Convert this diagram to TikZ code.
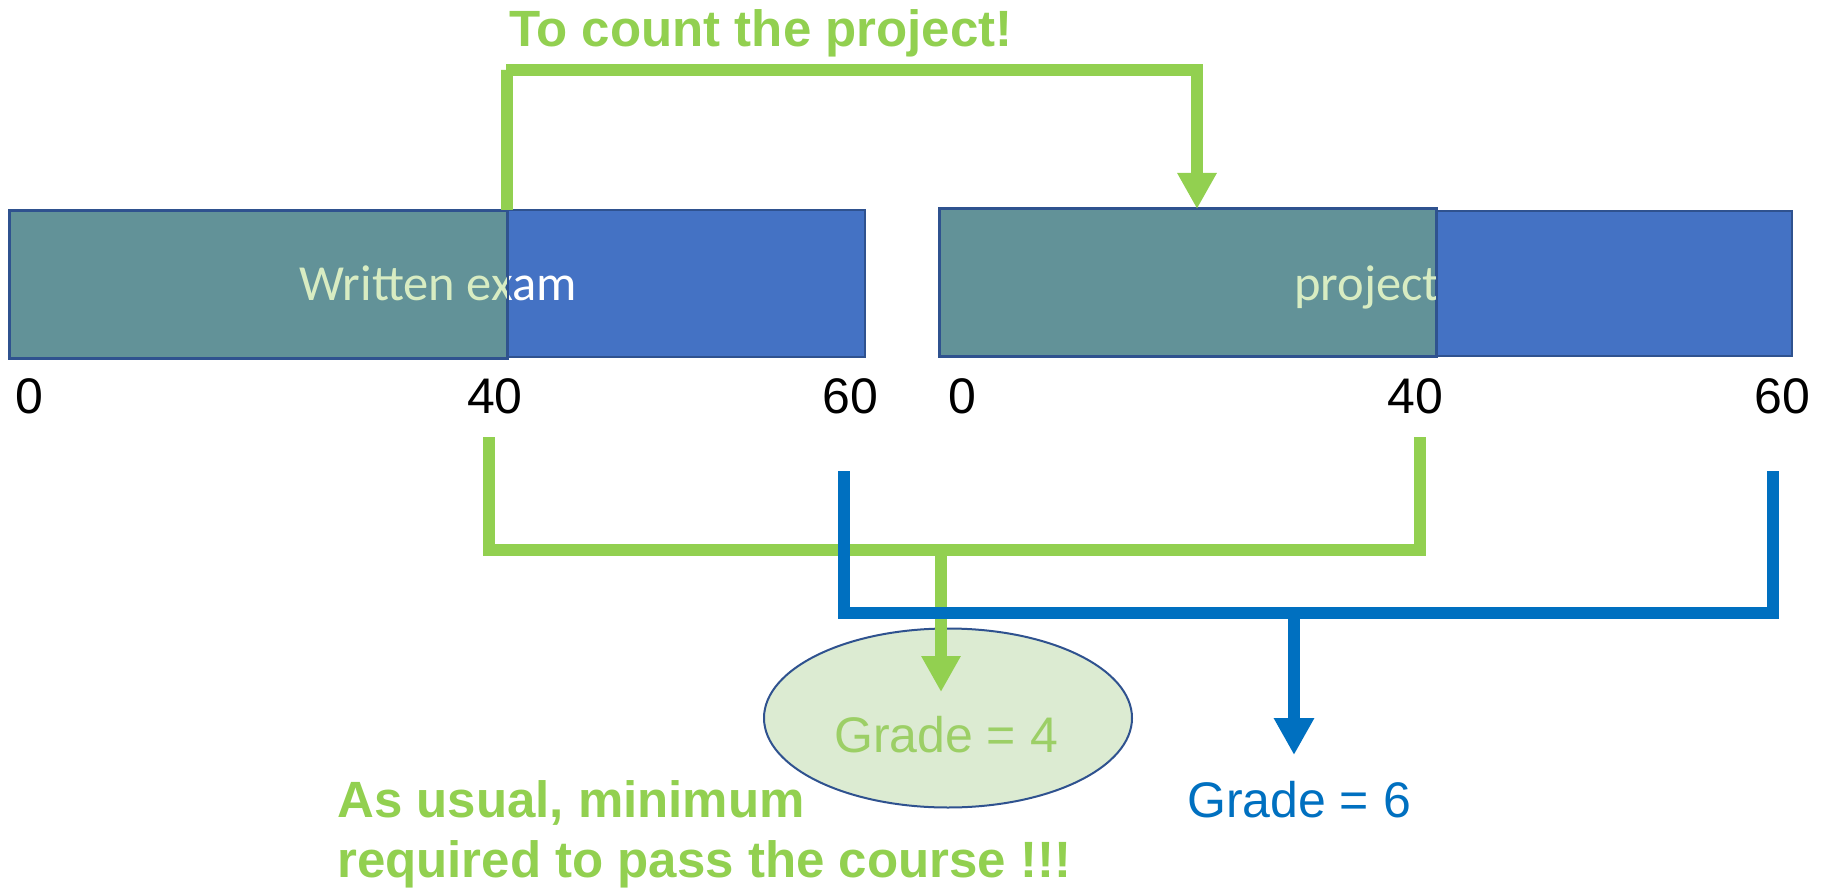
\documentclass[tikz,border=0pt]{standalone}
\usepackage{fontspec}
\setmainfont{Liberation Sans}
\newfontfamily\calfont{Carlito}
\usetikzlibrary{arrows.meta,shapes.geometric}
\definecolor{grn}{HTML}{92D050}
\definecolor{lblue}{HTML}{0070C0}
\definecolor{rectblue}{HTML}{4472C4}
\definecolor{edgeblue}{HTML}{2F528F}
\definecolor{tealc}{HTML}{629298}
\definecolor{lgtxt}{HTML}{D8ECC2}
\definecolor{ellfill}{HTML}{DCEBD2}
\definecolor{gfourtxt}{HTML}{9CCF66}
\begin{document}
\begin{tikzpicture}[x=1pt,y=-1pt,
  bigfont/.style={font=\fontsize{50}{60}\selectfont},
  boldfont/.style={font=\fontsize{51}{60}\selectfont\bfseries},
  calfnt/.style={font=\calfont\fontsize{50.5}{60}\selectfont},
  bar/.style={draw=edgeblue, line width=2pt, inner sep=0pt, minimum height=147pt},
  gline/.style={draw=grn, line width=12pt},
  bline/.style={draw=lblue, line width=12pt},
  garrow/.style={gline, -{Triangle[length=36pt,width=37pt]}},
  barrow/.style={bline, -{Triangle[length=37pt,width=38pt]}},
  tick/.style={bigfont, text=black, inner sep=0pt, anchor=base}
]
\useasboundingbox (0,0) rectangle (1824,888);
\fill[white] (0,0) rectangle (1824,888);

% ---- left bar
\node[bar, fill=rectblue, minimum width=855pt] (blueA) at (437.5,283.5) {};
\node[calfnt, text=white, inner sep=0pt, anchor=base] (txtA) at (438,300) {Written exam};
\node[bar, fill=tealc, minimum width=497pt] (tealA) at (258.5,284) {};
\begin{scope}
  \clip (tealA.north west) rectangle (tealA.south east);
  \node[calfnt, text=lgtxt, inner sep=0pt, anchor=base] at (438,300) {Written exam};
\end{scope}
\draw[edgeblue, line width=2pt] (tealA.north west) rectangle (tealA.south east);

% ---- right bar
\node[bar, fill=rectblue, minimum width=852pt, minimum height=145pt] (blueB) at (1366,283.5) {};
\node[calfnt, text=white, inner sep=0pt, anchor=base] (txtB) at (1367,300) {project};
\node[bar, fill=tealc, minimum width=496pt, minimum height=147pt] (tealB) at (1188,282.5) {};
\begin{scope}
  \clip (tealB.north west) rectangle (tealB.south east);
  \node[calfnt, text=lgtxt, inner sep=0pt, anchor=base] at (1367,300) {project};
\end{scope}
\draw[edgeblue, line width=2pt] (tealB.north west) rectangle (tealB.south east);

% ---- tick labels
\node[tick] (a0) at (29,413) {0};
\node[tick] (a40) at (495,413) {40};
\node[tick] (a60) at (850,413) {60};
\node[tick] (b0) at (962,413) {0};
\node[tick] (b40) at (1415,413) {40};
\node[tick] (b60) at (1782,413) {60};

% ---- top label and arrow
\node[boldfont, text=grn, inner sep=0pt, anchor=base west] (count) at (509,47) {To count the project!};
\coordinate (topL) at (506,70);
\coordinate (tipTop) at (1197,209);
\draw[garrow] (tealA.north east) ++(-1,0) |- (topL) -| (tipTop);

% ---- ellipse
\node[ellipse, draw=edgeblue, line width=2pt, fill=ellfill, minimum width=368pt, minimum height=179pt, inner sep=0pt] (ell) at (948,718) {};
\node[bigfont, text=gfourtxt, inner sep=0pt, anchor=base] (g4) at (946,752) {Grade = 4};

% ---- green lower bracket
\coordinate (gl1) at (489,437);
\coordinate (gl2) at (489,550);
\coordinate (gr2) at (1420,550);
\coordinate (gr1) at (1420,437);
\coordinate (gmid) at (941,550);
\coordinate (gtip) at (941,692);
\draw[gline] (gl1) -- (gl2) -- (gr2) -- (gr1);
\draw[garrow] (gmid) -- (gtip);

% ---- blue bracket
\coordinate (bl1) at (844,471);
\coordinate (bl2) at (844,613);
\coordinate (br2) at (1773,613);
\coordinate (br1) at (1773,471);
\coordinate (bmid) at (1294,613);
\coordinate (btip) at (1294,755);
\draw[bline] (bl1) -- (bl2) -- (br2) -- (br1);
\draw[barrow] (bmid) -- (btip);

\node[bigfont, text=lblue, inner sep=0pt, anchor=base] (g6) at (1299,817) {Grade = 6};

% ---- bottom note
\node[boldfont, text=grn, inner sep=0pt, anchor=base west] (note) at (337,817) {As usual, minimum};
\node[boldfont, text=grn, inner sep=0pt, anchor=base west] (note2) at (337,877) {required to pass the course !!!};
\end{tikzpicture}
\end{document}
